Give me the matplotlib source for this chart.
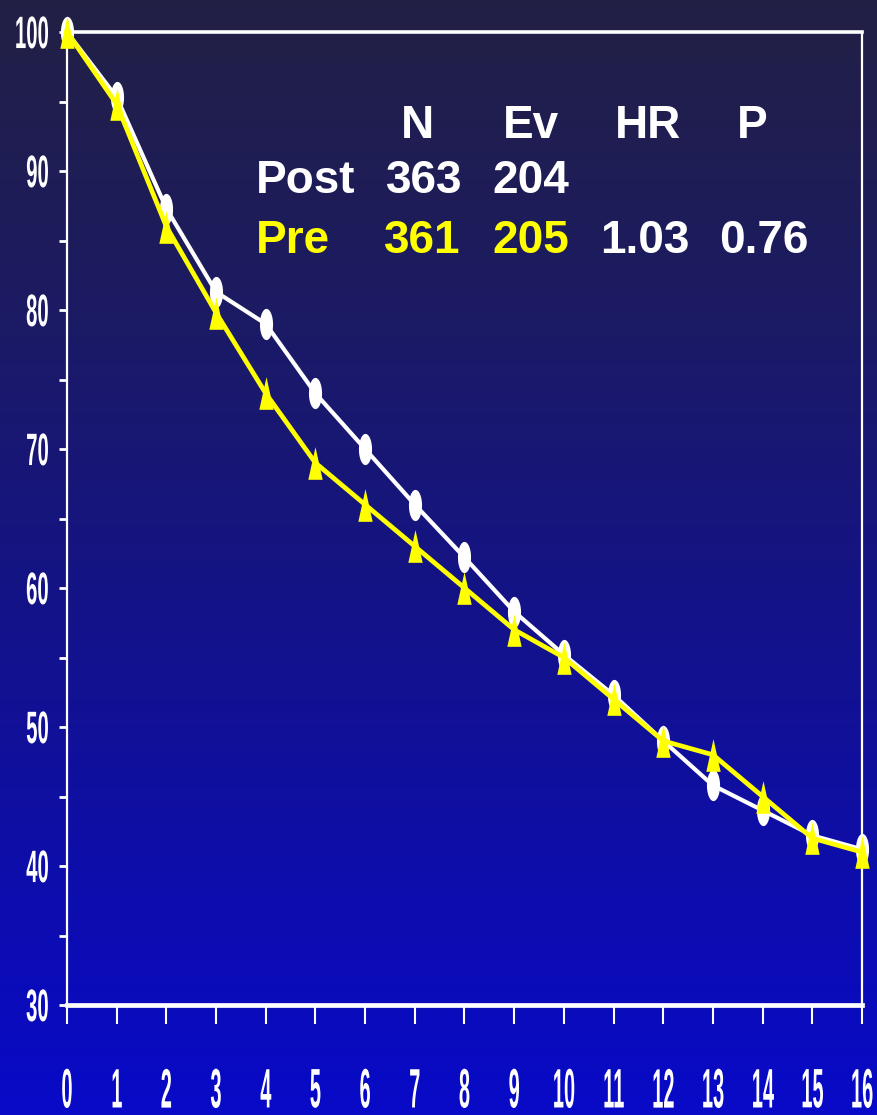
import numpy as np
import matplotlib
matplotlib.use("Agg")
import matplotlib.pyplot as plt
from matplotlib.path import Path
from matplotlib.patheffects import AbstractPathEffect
from matplotlib.transforms import Affine2D

# ---------------- data ----------------
years = list(range(17))
post_vals = [100, 95.3, 87.3, 81.3, 79, 74, 70, 66, 62.2, 58.3, 55.2, 52.3, 49, 45.8, 44, 42.2, 41.2]
pre_vals = [100, 94.8, 86, 79.8, 74, 69, 66, 63, 60, 57, 55, 52, 49, 48, 45, 42, 41]
y_ticks = [30, 40, 50, 60, 70, 80, 90, 100]
y_minor = [35, 45, 55, 65, 75, 85, 95]

header = ["N", "Ev", "HR", "P"]
post_row = ["Post", "363", "204"]
pre_row = ["Pre", "361", "205", "1.03", "0.76"]

W, H = 878, 1115
plt.rcParams['font.family'] = ['Liberation Sans', 'DejaVu Sans']
plt.rcParams['font.weight'] = 'bold'


class Stretch(AbstractPathEffect):
    """Reshape glyphs of a real Text (condensed, tall) around an anchor."""
    def __init__(self, sx, sy=1.0, anchor='center'):
        super().__init__()
        self.sx = sx
        self.sy = sy
        self.anchor = anchor

    def draw_path(self, renderer, gc, tpath, affine, rgbFace=None):
        bb = tpath.get_extents(affine)
        if self.anchor == 'right':
            cx = bb.x1
        elif self.anchor == 'left':
            cx = bb.x0
        else:
            cx = 0.5 * (bb.x0 + bb.x1)
        cy = 0.5 * (bb.y0 + bb.y1)
        new = affine + Affine2D().translate(-cx, -cy).scale(self.sx, self.sy).translate(cx, cy)
        renderer.draw_path(gc, tpath, new, rgbFace)


fig = plt.figure(figsize=(W / 100, H / 100), dpi=100)

# background gradient
stops_y = np.array([0, 300, 600, 850, 1115]) / H
stops_c = np.array([[34, 32, 68], [28, 27, 98], [20, 19, 135], [14, 14, 168], [8, 10, 200]]) / 255.0
t = np.linspace(0, 1, H)
grad = np.stack([np.interp(t, stops_y, stops_c[:, k]) for k in range(3)], axis=1)
grad = grad[:, None, :]
bg = fig.add_axes([0, 0, 1, 1], zorder=-10)
bg.imshow(grad, aspect='auto', extent=[0, 1, 0, 1], origin='upper')
bg.axis('off')

# main axes
left, right, top, bottom = 67, 862, 32, 1005
ax = fig.add_axes([left / W, 1 - bottom / H, (right - left) / W, (bottom - top) / H])
ax.set_facecolor('none')
ax.set_xlim(0, 16)
ax.set_ylim(30, 100)

for side, lw in [('left', 1.6), ('right', 1.6), ('top', 2.6), ('bottom', 3.4)]:
    ax.spines[side].set_color('white')
    ax.spines[side].set_linewidth(lw)

# markers
th = np.linspace(0, 2 * np.pi, 40)
ellipse = Path(np.column_stack([0.42 * np.cos(th), np.sin(th)]), closed=True)
tri = Path([(-0.44, -1), (0.44, -1), (0, 1), (-0.44, -1)], closed=True)

ax.plot(years, post_vals, color='white', lw=3.0, marker=ellipse, markersize=22.5,
        markeredgewidth=0, markerfacecolor='white', clip_on=False, zorder=3)
ax.plot(years, pre_vals, color='#FFFF00', lw=3.4, marker=tri, markersize=23.5,
        markeredgewidth=0, markerfacecolor='#FFFF00', clip_on=False, zorder=4)

# ticks
ax.set_xticks(years)
ax.set_xticklabels([str(v) for v in years])
ax.set_yticks(y_ticks)
ax.set_yticks(y_minor, minor=True)
ax.set_yticklabels([str(v) for v in y_ticks])
ax.tick_params(axis='x', which='major', direction='out', length=14, width=1.5,
               color='white', labelcolor='white', labelsize=20, pad=38.5)
ax.tick_params(axis='y', which='both', direction='out', length=6, width=2,
               color='white', labelcolor='white', labelsize=19, pad=7)
for lab in ax.get_xticklabels():
    lab.set_fontweight('bold')
    lab.set_path_effects([Stretch(0.72, 2.0, 'center')])
for lab in ax.get_yticklabels():
    lab.set_fontweight('bold')
    lab.set_path_effects([Stretch(0.77, 1.72, 'right')])

# statistics table
fs = 33
def put(x, y, s, color='white', ha='center'):
    fig.text(x / W, 1 - y / H, s, color=color, ha=ha, va='baseline',
             fontsize=fs, fontweight='bold')

for s, x in zip(header, [418, 531, 648, 752]):
    put(x, 138, s)

put(256, 193, post_row[0], ha='left')
put(424, 193, post_row[1])
put(531, 193, post_row[2])

put(256, 253, pre_row[0], color='#FFFF00', ha='left')
put(422, 253, pre_row[1], color='#FFFF00')
put(531, 253, pre_row[2], color='#FFFF00')
put(645, 253, pre_row[3])
put(764, 253, pre_row[4])

fig.savefig('out.png', dpi=100)
